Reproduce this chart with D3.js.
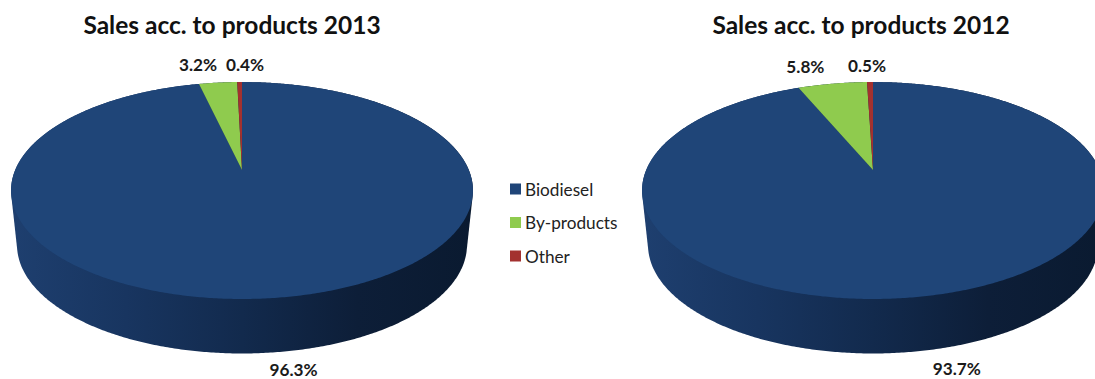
<!DOCTYPE html>
<html>
<head>
<meta charset="utf-8">
<script src="https://cdn.jsdelivr.net/npm/d3@7"></script>
<style>
  html, body { margin: 0; padding: 0; background: #fff; }
  svg { display: block; font-family: Lato, "Open Sans", sans-serif; }
</style>
</head>
<body>
<svg id="chart" width="1095" height="379"></svg>
<script>
// Sales breakdown by product, one tilted 3D pie per year
const categories = ["Biodiesel", "By-products", "Other"];
const years = [2013, 2012];
const sales2013 = [96.3, 3.2, 0.4];
const sales2012 = [93.7, 5.8, 0.5];
const seriesValues = [sales2013, sales2012];
const colors = ["#1f4578", "#8fcb4e", "#a3312f"];

// Layout of each pie and where its value labels sit relative to the rim
const pieCenters = [242, 873];
const titleCenters = [232, 861];
const labelShift = [
  [[20, 72], [-20, -18], [5.5, -18]],
  [[29, 73], [-27, -17], [-3, -17]]
];

// Perspective disc: the true pie centre lands above the middle of the visible ellipse
const apexY = 170, radiusX = 226.8, radiusY = 104.6, tilt = 0.189;
const wallDepth = 54.5, wallShrink = 225 / 231;

function project(angle, cx) {
  const u = Math.sin(angle), v = Math.cos(angle), w = 1 + tilt * v;
  return [cx + radiusX * u / w, apexY - radiusY * v / w];
}

const svg = d3.select("#chart");
const defs = svg.append("defs");
const pie = d3.pie().sort(null).value(d => d);
const line = d3.line();
const step = Math.PI / 180 / 2;

function sliceOutline(d, cx) {
  const n = Math.max(2, Math.ceil((d.endAngle - d.startAngle) / step));
  const rim = d3.range(n + 1).map(i =>
    project(d.startAngle + (d.endAngle - d.startAngle) * i / n, cx));
  return [[cx, apexY], ...rim];
}

years.forEach((year, idx) => {
  const cx = pieCenters[idx];
  const slices = pie(seriesValues[idx]);
  const g = svg.append("g");

  // Side wall: hull of the top rim and the lowered, slightly narrower base rim
  const rim = d3.range(0, 2 * Math.PI, step).map(a => project(a, cx));
  const base = rim.map(([x, y]) => [cx + (x - cx) * wallShrink, y + wallDepth]);
  const gradId = "wall" + year;
  const grad = defs.append("linearGradient").attr("id", gradId)
    .attr("gradientUnits", "userSpaceOnUse")
    .attr("x1", cx - 231).attr("x2", cx + 231).attr("y1", 0).attr("y2", 0);
  [[0, "#1e3f6f"], [0.25, "#183560"], [0.5, "#122a4d"], [0.75, "#0d1e38"], [1, "#0a1a30"]]
    .forEach(([o, c]) => grad.append("stop").attr("offset", o).attr("stop-color", c));
  g.append("path")
    .attr("d", line(d3.polygonHull(rim.concat(base))) + "Z")
    .attr("fill", `url(#${gradId})`);

  // Top face
  g.selectAll("path.slice").data(slices).join("path")
    .attr("class", "slice")
    .attr("d", d => line(sliceOutline(d, cx)) + "Z")
    .attr("fill", (d, i) => colors[i]);

  // Value labels
  g.selectAll("text.value").data(slices).join("text")
    .attr("class", "value")
    .attr("text-anchor", "middle")
    .attr("dominant-baseline", "central")
    .attr("font-size", 17.2)
    .attr("font-weight", 700)
    .attr("fill", "#1a1a1a")
    .attr("x", (d, i) => project((d.startAngle + d.endAngle) / 2, cx)[0] + labelShift[idx][i][0])
    .attr("y", (d, i) => project((d.startAngle + d.endAngle) / 2, cx)[1] + labelShift[idx][i][1])
    .text(d => d.data.toFixed(1) + "%");

  // Title
  g.append("text")
    .attr("x", titleCenters[idx]).attr("y", 34)
    .attr("text-anchor", "middle")
    .attr("font-size", 24.5)
    .attr("font-weight", 700)
    .attr("fill", "#111")
    .text(`Sales acc. to products ${year}`);
});

// Shared legend between the two pies
const legendY = d3.scalePoint().domain(categories).range([189, 256]);
const legend = svg.append("g").selectAll("g").data(categories).join("g")
  .attr("transform", d => `translate(510,${legendY(d)})`);
legend.append("rect")
  .attr("x", 0).attr("y", -5.5).attr("width", 11).attr("height", 11)
  .attr("fill", (d, i) => colors[i]);
legend.append("text")
  .attr("x", 15).attr("y", 0)
  .attr("dominant-baseline", "central")
  .attr("font-size", 17.2)
  .attr("fill", "#222")
  .text(d => d);
</script>
</body>
</html>
